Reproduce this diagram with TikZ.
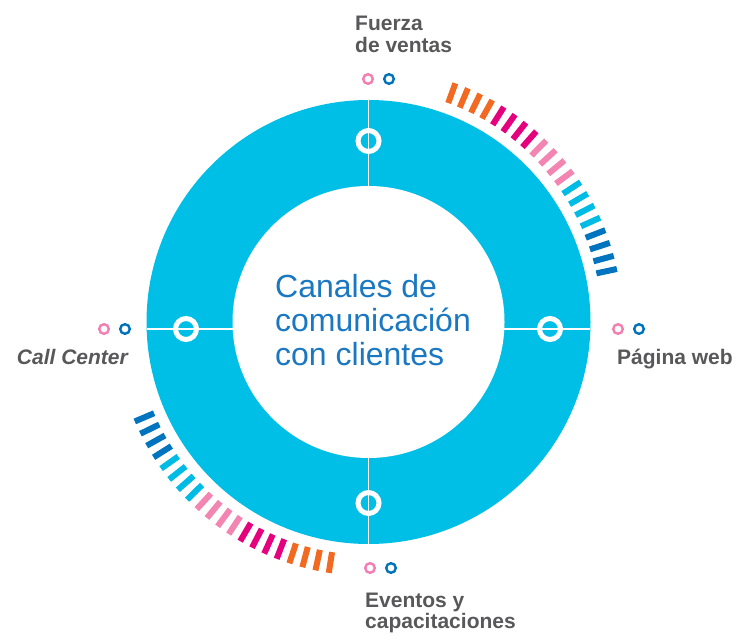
\documentclass[tikz,border=0pt]{standalone}
\usepackage{fontspec}
\setmainfont{Liberation Sans}
\definecolor{RingCyan}{HTML}{00BFE7}
\definecolor{LabelGray}{HTML}{58585A}
\definecolor{TitleBlue}{HTML}{1A78C2}
\definecolor{DotPink}{HTML}{F37EB1}
\definecolor{DotBlue}{HTML}{0072BC}
\definecolor{tick0}{HTML}{F26A22}
\definecolor{tick1}{HTML}{E5007D}
\definecolor{tick2}{HTML}{F385B3}
\definecolor{tick3}{HTML}{00BCE4}
\definecolor{tick4}{HTML}{0074BE}
\usetikzlibrary{positioning, calc}

\begin{document}
\begin{tikzpicture}[x=1pt, y=1pt,
  lbl/.style={font=\bfseries\fontsize{21}{22}\selectfont, text=LabelGray,
              align=left, inner sep=0pt},
  title/.style={font=\fontsize{32}{34}\selectfont, text=TitleBlue,
                align=left, inner sep=0pt},
  divider/.style={white, line width=1.8pt},
  marker/.style={draw=white, line width=5pt},
  dot/.style={line width=2.4pt},
  tickmark/.style={line width=6pt},
]
  \useasboundingbox (0,0) rectangle (741,635);
  \coordinate (c) at (368.5,313);

  % ring
  \fill[RingCyan] (c) circle[radius=222];
  \draw[divider] (368.5,91) -- (368.5,535);
  \draw[divider] (146.6,306) -- (590.4,306);
  \fill[white] (c) circle[radius=136];

  % channel markers on the ring
  \draw[marker] (368.5,494) circle[radius=10.5];
  \draw[marker] (368.5,132) circle[radius=10.5];
  \draw[marker] (186,306) circle[radius=10.5];
  \draw[marker] (550,306) circle[radius=10.5];

  % tick arcs
  \foreach \i in {0,...,19} {
    \pgfmathtruncatemacro{\k}{\i/4}
    \draw[tickmark, tick\k] ($(c)+(70-3.05*\i:233)$) -- ($(c)+(70-3.05*\i:254)$);
    \draw[tickmark, tick\k] ($(c)+(261-3.05*\i:233)$) -- ($(c)+(261-3.05*\i:254)$);
  }

  % small dots
  \foreach \x/\y in {368/556, 104/306, 618/306, 370/67} {
    \draw[dot, DotPink] (\x,\y) circle[radius=4.8];
    \draw[dot, DotBlue] (\x+21,\y) circle[radius=4.8];
  }

  \node[title, anchor=north west] (center) at (275,361)
    {Canales de\\comunicación\\con clientes};
  \node[lbl, anchor=north west] (fuerza) at (355,619) {Fuerza\\de ventas};
  \node[lbl, anchor=base east, font=\bfseries\itshape\fontsize{21}{22}\selectfont]
    (call) at (128,270) {Call Center};
  \node[lbl, anchor=base west] (web) at (617,270) {Página web};
  \node[lbl, anchor=north west, font=\bfseries\fontsize{21}{21}\selectfont]
    (eventos) at (365,42) {Eventos y\\capacitaciones};
\end{tikzpicture}
\end{document}
